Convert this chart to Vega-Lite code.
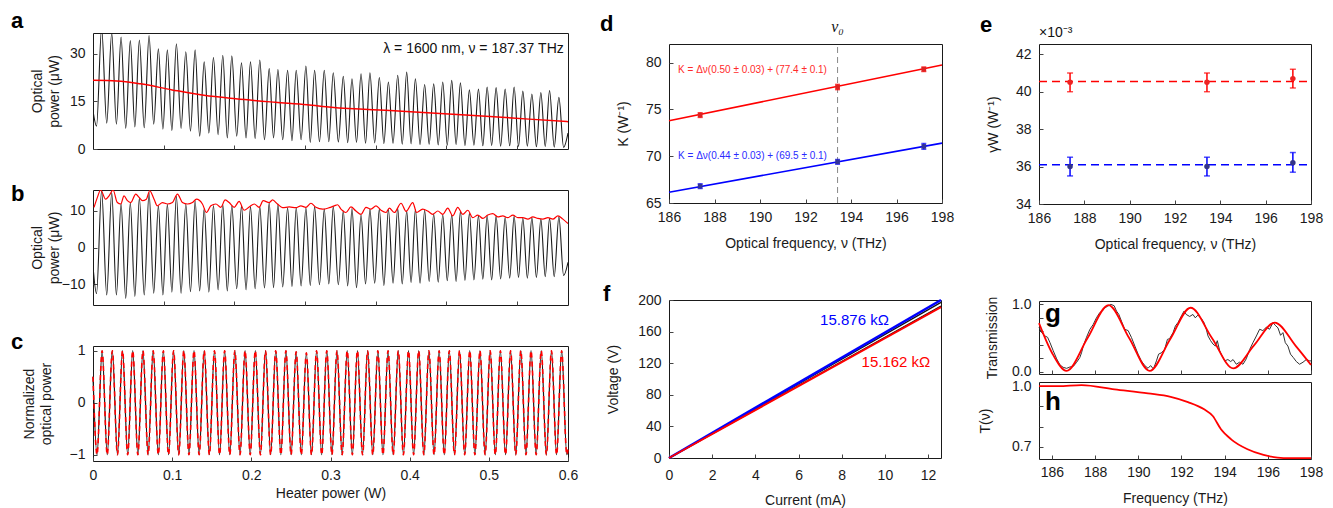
{
"$schema": "https://vega.github.io/schema/vega-lite/v6.json",
"padding": {"left": 10, "top": 9, "right": 0, "bottom": 0},
"background": "white",
"config": {
  "font": "Liberation Sans",
  "view": {"stroke": "#1a1a1a", "strokeWidth": 1},
  "axis": {"grid": false, "domain": false, "tickSize": -4, "tickColor": "#444", "tickWidth": 1, "labelFontSize": 14, "titleFontSize": 14, "titleFontWeight": "normal", "labelColor": "#1a1a1a", "titleColor": "#1a1a1a", "labelFlush": false, "labelOverlap": false, "labelPadding": 11, "titlePadding": 12, "titleLineHeight": 17, "labelFont": "Liberation Sans", "titleFont": "Liberation Sans"},
  "axisY": {"labelPadding": 12},
  "title": {"fontSize": 22, "fontWeight": "bold", "anchor": "start", "frame": "group", "baseline": "alphabetic", "color": "#000", "font": "Liberation Sans"},
  "text": {"font": "Liberation Sans"}
},
"datasets": {
"osc": [
{"x":0,"a":12,"b":-5},{"x":0.0050,"a":7.2,"b":-12.5},{"x":0.0122,"a":38.0,"b":15.5},{"x":0.0194,"a":8.1,"b":-12.9},{"x":0.0265,"a":36.5,"b":14.9},{"x":0.0331,"a":7.8,"b":-12.9},{"x":0.0397,"a":35.2,"b":11.9},{"x":0.0463,"a":6.5,"b":-13.8},{"x":0.0528,"a":34.1,"b":12.1},{"x":0.0592,"a":6.9,"b":-13.3},{"x":0.0656,"a":34.3,"b":13.4},{"x":0.0725,"a":6.7,"b":-12.9},{"x":0.0793,"a":35.7,"b":14.9},{"x":0.0859,"a":7.8,"b":-12.4},{"x":0.0925,"a":31.5,"b":11.3},{"x":0.0989,"a":6.2,"b":-12.9},{"x":0.1052,"a":31.2,"b":11.7},{"x":0.1116,"a":5.8,"b":-12.1},{"x":0.1180,"a":33.1,"b":13.9},{"x":0.1246,"a":6.5,"b":-12.4},{"x":0.1313,"a":30.6,"b":11.8},{"x":0.1379,"a":5.6,"b":-12.0},{"x":0.1445,"a":31.2,"b":12.7},{"x":0.1509,"a":4.0,"b":-11.8},{"x":0.1573,"a":27.4,"b":10.6},{"x":0.1639,"a":5.0,"b":-12.1},{"x":0.1704,"a":28.8,"b":11.4},{"x":0.1770,"a":4.5,"b":-11.5},{"x":0.1836,"a":29.5,"b":11.7},{"x":0.1900,"a":3.5,"b":-11.8},{"x":0.1964,"a":29.3,"b":11.4},{"x":0.2033,"a":4.0,"b":-11.2},{"x":0.2101,"a":27.1,"b":11.3},{"x":0.2165,"a":3.5,"b":-11.5},{"x":0.2228,"a":27.4,"b":11.1},{"x":0.2294,"a":3.3,"b":-11.2},{"x":0.2360,"a":28.0,"b":11.1},{"x":0.2426,"a":2.9,"b":-11.0},{"x":0.2493,"a":25.3,"b":12.1},{"x":0.2554,"a":3.5,"b":-10.9},{"x":0.2616,"a":25.0,"b":11.7},{"x":0.2684,"a":2.9,"b":-10.7},{"x":0.2753,"a":24.8,"b":10.8},{"x":0.2815,"a":2.6,"b":-10.6},{"x":0.2875,"a":24.8,"b":10.7},{"x":0.2944,"a":2.9,"b":-10.4},{"x":0.3012,"a":26.1,"b":10.8},{"x":0.3074,"a":2.1,"b":-10.3},{"x":0.3135,"a":24.8,"b":11.1},{"x":0.3204,"a":2.3,"b":-10.1},{"x":0.3272,"a":24.8,"b":10.4},{"x":0.3336,"a":2.3,"b":-9.9},{"x":0.3399,"a":24.0,"b":11.1},{"x":0.3471,"a":2.2,"b":-10.1},{"x":0.3541,"a":22.9,"b":9.9},{"x":0.3603,"a":2.0,"b":-10.4},{"x":0.3664,"a":22.1,"b":10.6},{"x":0.3728,"a":2.1,"b":-10.9},{"x":0.3792,"a":23.7,"b":8.9},{"x":0.3856,"a":1.8,"b":-9.9},{"x":0.3918,"a":24.0,"b":10.4},{"x":0.3985,"a":1.9,"b":-9.7},{"x":0.4051,"a":22.5,"b":10.4},{"x":0.4115,"a":1.7,"b":-10.3},{"x":0.4179,"a":21.1,"b":10.3},{"x":0.4245,"a":1.8,"b":-9.7},{"x":0.4311,"a":23.2,"b":10.6},{"x":0.4375,"a":1.5,"b":-9.9},{"x":0.4438,"a":24.2,"b":9.9},{"x":0.4500,"a":1.6,"b":-9.5},{"x":0.4561,"a":22.1,"b":10.3},{"x":0.4627,"a":1.4,"b":-9.7},{"x":0.4692,"a":20.3,"b":10.1},{"x":0.4756,"a":1.5,"b":-9.2},{"x":0.4820,"a":20.5,"b":9.1},{"x":0.4884,"a":1.3,"b":-9.4},{"x":0.4948,"a":21.1,"b":8.9},{"x":0.5012,"a":1.2,"b":-9.0},{"x":0.5075,"a":21.6,"b":8.9},{"x":0.5137,"a":1.4,"b":-9.2},{"x":0.5198,"a":20.8,"b":9.8},{"x":0.5262,"a":1.1,"b":-8.9},{"x":0.5325,"a":18.6,"b":9.3},{"x":0.5389,"a":1.2,"b":-8.8},{"x":0.5453,"a":18.9,"b":8.6},{"x":0.5515,"a":1.0,"b":-8.6},{"x":0.5576,"a":19.5,"b":8.6},{"x":0.5640,"a":1.1,"b":-8.8},{"x":0.5703,"a":19.3,"b":8.5},{"x":0.5767,"a":0.9,"b":-8.5},{"x":0.5831,"a":18.9,"b":8.2},{"x":0.5895,"a":1.0,"b":-8.3},{"x":0.5958,"a":19.5,"b":8.5},{"x":0.6020,"a":0.8,"b":-8.1},{"x":0.6081,"a":18.2,"b":8.0},{"x":0.6145,"a":0.9,"b":-8.3},{"x":0.6209,"a":17.3,"b":8.1},{"x":0.6273,"a":0.7,"b":-8.1},{"x":0.6336,"a":17.8,"b":7.7},{"x":0.6398,"a":0.8,"b":-7.9},{"x":0.6459,"a":18.4,"b":7.9},{"x":0.6525,"a":0.6,"b":-7.9},{"x":0.6591,"a":16.3,"b":8.3},{"x":0.6658,"a":0.5,"b":-7.6},{"x":0.672,"a":5,"b":-4}
],
"aBase": [
{"x":0,"a":21.6},{"x":0.034,"a":21.4},{"x":0.067,"a":20.5},{"x":0.112,"a":18.6},{"x":0.157,"a":16.9},{"x":0.202,"a":15.8},{"x":0.258,"a":14.7},{"x":0.303,"a":13.9},{"x":0.337,"a":13.1},{"x":0.426,"a":12.0},{"x":0.527,"a":10.7},{"x":0.617,"a":9.4},{"x":0.672,"a":8.6}
],
"bEnv": [
{"x":0.0015,"b":10.9},{"x":0.0062,"b":13.6},{"x":0.0109,"b":15.6},{"x":0.0179,"b":13.1},{"x":0.0227,"b":14.0},{"x":0.0284,"b":15.6},{"x":0.0344,"b":12.2},{"x":0.0393,"b":11.8},{"x":0.0439,"b":14.0},{"x":0.0487,"b":12.7},{"x":0.0534,"b":12.2},{"x":0.0605,"b":14.5},{"x":0.0652,"b":13.6},{"x":0.0699,"b":12.7},{"x":0.0755,"b":13.1},{"x":0.0802,"b":15.4},{"x":0.0864,"b":13.1},{"x":0.0911,"b":11.3},{"x":0.0982,"b":12.2},{"x":0.1053,"b":11.8},{"x":0.1124,"b":12.2},{"x":0.1195,"b":14.5},{"x":0.1265,"b":12.2},{"x":0.1336,"b":11.8},{"x":0.1407,"b":12.2},{"x":0.1464,"b":13.1},{"x":0.1548,"b":11.8},{"x":0.1605,"b":9.5},{"x":0.1667,"b":11.3},{"x":0.1738,"b":11.8},{"x":0.1808,"b":10.9},{"x":0.1870,"b":12.9},{"x":0.1926,"b":12.2},{"x":0.1997,"b":10.9},{"x":0.2067,"b":12.5},{"x":0.2139,"b":10.1},{"x":0.2210,"b":11.0},{"x":0.2281,"b":11.8},{"x":0.2351,"b":10.9},{"x":0.2407,"b":12.7},{"x":0.2493,"b":12.2},{"x":0.2540,"b":12.9},{"x":0.2610,"b":11.8},{"x":0.2682,"b":10.8},{"x":0.2776,"b":11.0},{"x":0.2871,"b":10.8},{"x":0.2941,"b":11.3},{"x":0.3012,"b":10.9},{"x":0.3083,"b":12.0},{"x":0.3153,"b":10.9},{"x":0.3249,"b":10.4},{"x":0.3343,"b":10.8},{"x":0.3414,"b":11.3},{"x":0.3461,"b":11.6},{"x":0.3508,"b":10.4},{"x":0.3579,"b":9.5},{"x":0.3649,"b":11.0},{"x":0.3720,"b":9.9},{"x":0.3792,"b":9.0},{"x":0.3862,"b":10.9},{"x":0.3933,"b":10.4},{"x":0.4004,"b":11.3},{"x":0.4074,"b":10.1},{"x":0.4145,"b":9.5},{"x":0.4192,"b":10.7},{"x":0.4264,"b":9.5},{"x":0.4358,"b":12.0},{"x":0.4429,"b":9.8},{"x":0.4523,"b":12.2},{"x":0.4579,"b":9.5},{"x":0.4664,"b":10.4},{"x":0.4735,"b":9.9},{"x":0.4807,"b":9.0},{"x":0.4878,"b":9.9},{"x":0.4948,"b":9.0},{"x":0.5019,"b":10.7},{"x":0.5090,"b":8.6},{"x":0.5160,"b":10.9},{"x":0.5231,"b":9.0},{"x":0.5302,"b":10.1},{"x":0.5373,"b":8.1},{"x":0.5444,"b":8.8},{"x":0.5515,"b":7.9},{"x":0.5585,"b":8.8},{"x":0.5656,"b":9.2},{"x":0.5727,"b":8.3},{"x":0.5797,"b":8.6},{"x":0.5868,"b":8.1},{"x":0.5940,"b":8.8},{"x":0.6011,"b":8.1},{"x":0.6081,"b":8.1},{"x":0.6152,"b":7.7},{"x":0.6223,"b":8.3},{"x":0.6293,"b":7.9},{"x":0.6364,"b":7.7},{"x":0.6436,"b":8.1},{"x":0.6507,"b":7.7},{"x":0.6577,"b":8.6},{"x":0.6648,"b":7.7},{"x":0.672,"b":6.5}
],
"cOsc": [
{"x":0,"c":0.5},{"x":0.0051,"c":-1},{"x":0.0115,"c":1},{"x":0.0180,"c":-1},{"x":0.0244,"c":1},{"x":0.0309,"c":-1},{"x":0.0373,"c":1},{"x":0.0438,"c":-1},{"x":0.0502,"c":1},{"x":0.0567,"c":-1},{"x":0.0631,"c":1},{"x":0.0696,"c":-1},{"x":0.0760,"c":1},{"x":0.0825,"c":-1},{"x":0.0889,"c":1},{"x":0.0954,"c":-1},{"x":0.1018,"c":1},{"x":0.1083,"c":-1},{"x":0.1147,"c":1},{"x":0.1212,"c":-1},{"x":0.1276,"c":1},{"x":0.1341,"c":-1},{"x":0.1405,"c":1},{"x":0.1470,"c":-1},{"x":0.1534,"c":1},{"x":0.1599,"c":-1},{"x":0.1663,"c":1},{"x":0.1728,"c":-1},{"x":0.1792,"c":1},{"x":0.1857,"c":-1},{"x":0.1921,"c":1},{"x":0.1986,"c":-1},{"x":0.2050,"c":1},{"x":0.2115,"c":-1},{"x":0.2179,"c":1},{"x":0.2244,"c":-1},{"x":0.2308,"c":1},{"x":0.2373,"c":-1},{"x":0.2437,"c":1},{"x":0.2502,"c":-1},{"x":0.2566,"c":0.98},{"x":0.2631,"c":-1},{"x":0.2695,"c":0.96},{"x":0.2760,"c":-1},{"x":0.2824,"c":1},{"x":0.2889,"c":-1},{"x":0.2953,"c":1},{"x":0.3018,"c":-1},{"x":0.3082,"c":1},{"x":0.3147,"c":-1},{"x":0.3211,"c":1},{"x":0.3276,"c":-1},{"x":0.3340,"c":1},{"x":0.3405,"c":-1},{"x":0.3469,"c":1},{"x":0.3534,"c":-1},{"x":0.3598,"c":1},{"x":0.3663,"c":-1},{"x":0.3727,"c":1},{"x":0.3792,"c":-1},{"x":0.3856,"c":1},{"x":0.3921,"c":-1},{"x":0.3985,"c":1},{"x":0.4050,"c":-1},{"x":0.4114,"c":1},{"x":0.4179,"c":-1},{"x":0.4243,"c":1},{"x":0.4308,"c":-1},{"x":0.4372,"c":1},{"x":0.4437,"c":-1},{"x":0.4501,"c":1},{"x":0.4566,"c":-1},{"x":0.4630,"c":1},{"x":0.4695,"c":-1},{"x":0.4759,"c":1},{"x":0.4824,"c":-1},{"x":0.4888,"c":1},{"x":0.4953,"c":-1},{"x":0.5017,"c":1},{"x":0.5082,"c":-1},{"x":0.5146,"c":1},{"x":0.5211,"c":-1},{"x":0.5275,"c":1},{"x":0.5340,"c":-1},{"x":0.5404,"c":1},{"x":0.5469,"c":-1},{"x":0.5533,"c":1},{"x":0.5598,"c":-1},{"x":0.5662,"c":1},{"x":0.5727,"c":-1},{"x":0.5791,"c":1},{"x":0.5856,"c":-1},{"x":0.5920,"c":1},{"x":0.5985,"c":-1},{"x":0.6,"c":-0.9}
],
"dPts": [
{"f":187.37,"K":74.4,"lo":74.15,"hi":74.65,"s":"r"},{"f":193.41,"K":77.4,"lo":77.12,"hi":77.68,"s":"r"},{"f":197.2,"K":79.3,"lo":79.05,"hi":79.55,"s":"r"},
{"f":187.37,"K":66.8,"lo":66.55,"hi":67.05,"s":"b"},{"f":193.41,"K":69.4,"lo":69.15,"hi":69.65,"s":"b"},{"f":197.2,"K":71.05,"lo":70.75,"hi":71.35,"s":"b"}
],
"dFit": [
{"f":186,"K":73.8,"s":"r"},{"f":198,"K":79.75,"s":"r"},{"f":186,"K":66.15,"s":"b"},{"f":198,"K":71.4,"s":"b"}
],
"ePts": [
{"f":187.37,"g":40.5,"lo":40.0,"hi":41.0,"s":"r"},{"f":193.41,"g":40.5,"lo":40.0,"hi":41.0,"s":"r"},{"f":197.2,"g":40.7,"lo":40.2,"hi":41.2,"s":"r"},
{"f":187.37,"g":36.0,"lo":35.5,"hi":36.5,"s":"b"},{"f":193.41,"g":36.0,"lo":35.5,"hi":36.5,"s":"b"},{"f":197.2,"g":36.2,"lo":35.7,"hi":36.75,"s":"b"}
],
"eMean": [
{"f":186,"g":40.55,"s":"r"},{"f":198,"g":40.55,"s":"r"},{"f":186,"g":36.1,"s":"b"},{"f":198,"g":36.1,"s":"b"}
],
"fIV": [
{"i":0,"v":0,"s":"k1"},{"i":12.6,"v":197.0,"s":"k1"},
{"i":0,"v":0,"s":"k2"},{"i":12.6,"v":192.3,"s":"k2"},
{"i":0,"v":0,"s":"blue"},{"i":12.6,"v":200.0,"s":"blue"},
{"i":0,"v":0,"s":"red"},{"i":12.6,"v":191.0,"s":"red"}
],
"gMeas": [
{"f":185.40,"t":0.66},{"f":185.52,"t":0.58},{"f":185.68,"t":0.53},{"f":185.80,"t":0.51},{"f":185.91,"t":0.43},{"f":186.06,"t":0.31},{"f":186.22,"t":0.19},{"f":186.37,"t":0.10},{"f":186.52,"t":0.064},{"f":186.68,"t":0.049},{"f":186.83,"t":0.069},{"f":186.99,"t":0.079},{"f":187.14,"t":0.137},{"f":187.29,"t":0.21},{"f":187.37,"t":0.28},{"f":187.45,"t":0.38},{"f":187.60,"t":0.51},{"f":187.76,"t":0.63},{"f":187.91,"t":0.70},{"f":188.06,"t":0.80},{"f":188.22,"t":0.88},{"f":188.33,"t":0.90},{"f":188.45,"t":0.95},{"f":188.57,"t":0.97},{"f":188.73,"t":1.0},{"f":188.88,"t":0.98},{"f":188.99,"t":0.90},{"f":189.10,"t":0.85},{"f":189.22,"t":0.75},{"f":189.37,"t":0.63},{"f":189.53,"t":0.61},{"f":189.68,"t":0.51},{"f":189.84,"t":0.38},{"f":189.99,"t":0.26},{"f":190.14,"t":0.16},{"f":190.30,"t":0.09},{"f":190.45,"t":0.05},{"f":190.57,"t":0.09},{"f":190.70,"t":0.04},{"f":190.84,"t":0.16},{"f":190.94,"t":0.26},{"f":191.07,"t":0.28},{"f":191.22,"t":0.33},{"f":191.35,"t":0.48},{"f":191.45,"t":0.49},{"f":191.61,"t":0.58},{"f":191.72,"t":0.68},{"f":191.84,"t":0.73},{"f":192.00,"t":0.83},{"f":192.12,"t":0.90},{"f":192.22,"t":0.85},{"f":192.38,"t":0.82},{"f":192.53,"t":0.85},{"f":192.64,"t":0.80},{"f":192.76,"t":0.84},{"f":192.92,"t":0.79},{"f":193.04,"t":0.73},{"f":193.15,"t":0.63},{"f":193.23,"t":0.53},{"f":193.35,"t":0.46},{"f":193.46,"t":0.41},{"f":193.57,"t":0.38},{"f":193.66,"t":0.46},{"f":193.77,"t":0.31},{"f":193.87,"t":0.24},{"f":194.00,"t":0.16},{"f":194.15,"t":0.18},{"f":194.28,"t":0.15},{"f":194.39,"t":0.18},{"f":194.54,"t":0.11},{"f":194.69,"t":0.14},{"f":194.85,"t":0.11},{"f":195.00,"t":0.19},{"f":195.16,"t":0.33},{"f":195.31,"t":0.43},{"f":195.47,"t":0.53},{"f":195.62,"t":0.63},{"f":195.77,"t":0.61},{"f":195.93,"t":0.66},{"f":196.08,"t":0.63},{"f":196.24,"t":0.73},{"f":196.34,"t":0.69},{"f":196.47,"t":0.65},{"f":196.59,"t":0.54},{"f":196.70,"t":0.58},{"f":196.81,"t":0.43},{"f":196.93,"t":0.38},{"f":197.05,"t":0.26},{"f":197.18,"t":0.21},{"f":197.32,"t":0.15},{"f":197.47,"t":0.11},{"f":197.63,"t":0.14},{"f":197.78,"t":0.18},{"f":197.94,"t":0.16},{"f":198.00,"t":0.16}
],
"gFit": [
{"f":185.4,"t":0.72},{"f":186.0,"t":0.28},{"f":186.68,"t":0.01},{"f":187.65,"t":0.50},{"f":188.62,"t":0.99},{"f":189.575,"t":0.50},{"f":190.53,"t":0.01},{"f":191.475,"t":0.48},{"f":192.42,"t":0.95},{"f":193.41,"t":0.50},{"f":194.40,"t":0.05},{"f":195.36,"t":0.39},{"f":196.32,"t":0.73},{"f":197.3,"t":0.38},{"f":198,"t":0.1}
],
"hT": [
{"f":185.4,"t":1.0},{"f":186.3,"t":1.0},{"f":187.37,"t":1.005},{"f":188.9,"t":0.984},{"f":190.45,"t":0.964},{"f":191.5,"t":0.947},{"f":192.3,"t":0.921},{"f":193.05,"t":0.885},{"f":193.45,"t":0.852},{"f":193.83,"t":0.787},{"f":194.3,"t":0.737},{"f":195.06,"t":0.688},{"f":195.8,"t":0.66},{"f":196.45,"t":0.647},{"f":197.0,"t":0.644},{"f":198,"t":0.644}
]
},
"columns": 2,
"align": "none",
"spacing": 20,
"concat": [
 {"spacing": 41, "bounds": "flush", "vconcat": [
  {"width": 475, "height": 116,
   "title": {"text": "a", "dx": -82, "offset": 0},
   "layer": [
     {"data": {"name": "osc"}, "mark": {"type": "line", "interpolate": "monotone", "color": "#1a1a1a", "strokeWidth": 1.1, "clip": true},
      "encoding": {
        "x": {"field": "x", "type": "quantitative", "scale": {"domain": [0, 0.672], "nice": false, "zero": false}, "axis": {"values": [0.1,0.2,0.3,0.4,0.5,0.6], "tickCount": 20, "labels": false, "title": null}},
        "y": {"field": "a", "type": "quantitative", "scale": {"domain": [0, 36.5], "nice": false, "zero": false}, "axis": {"values": [0,15,30], "tickCount": 20, "format": "d", "labelOverlap": false, "title": ["Optical", "power (μW)"], "minExtent": 26, "maxExtent": 26, "titlePadding": 6}}
      }},
     {"data": {"name": "aBase"}, "mark": {"type": "line", "interpolate": "monotone", "color": "#ff0000", "strokeWidth": 1.5},
      "encoding": {"x": {"field": "x", "type": "quantitative"}, "y": {"field": "a", "type": "quantitative"}}},
     {"data": {"values": [{}]}, "mark": {"type": "text", "text": "λ = 1600 nm, ν = 187.37 THz", "align": "right", "baseline": "middle", "fontSize": 14, "color": "#111"},
      "encoding": {"x": {"datum": 0.666}, "y": {"datum": 31.4}}}
   ]
  },
  {"width": 475, "height": 115,
   "title": {"text": "b", "dx": -82, "offset": -16},
   "encoding": {
     "x": {"field": "x", "type": "quantitative", "scale": {"domain": [0, 0.672], "nice": false, "zero": false}, "axis": {"values": [0.1,0.2,0.3,0.4,0.5,0.6], "labels": false, "title": null}},
     "y": {"field": "b", "type": "quantitative", "scale": {"domain": [-15.6, 15.6], "nice": false, "zero": false}, "axis": {"values": [-10,0,10], "labelOverlap": false, "title": ["Optical", "power (μW)"], "minExtent": 26, "maxExtent": 26, "titlePadding": 6}}
   },
   "layer": [
     {"data": {"name": "osc"}, "mark": {"type": "line", "interpolate": "monotone", "color": "#1a1a1a", "strokeWidth": 1.1, "clip": true}},
     {"data": {"name": "bEnv"}, "mark": {"type": "line", "interpolate": "monotone", "color": "#ff0000", "strokeWidth": 1.2, "clip": true}}
   ]
  },
  {"width": 475, "height": 115,
   "title": {"text": "c", "dx": -82, "offset": -10},
   "encoding": {
     "x": {"field": "x", "type": "quantitative", "scale": {"domain": [0, 0.6], "nice": false, "zero": false}, "axis": {"values": [0,0.1,0.2,0.3,0.4,0.5,0.6], "labelOverlap": false, "labelExpr": "datum.value == 0 ? '0' : format(datum.value, '.1f')", "title": "Heater power (W)", "titlePadding": 4}},
     "y": {"field": "c", "type": "quantitative", "scale": {"domain": [-1.12, 1.09], "nice": false, "zero": false}, "axis": {"values": [-1,0,1], "labelOverlap": false, "title": ["Normalized", "optical power"], "minExtent": 26, "maxExtent": 26, "titlePadding": 14}}
   },
   "layer": [
     {"data": {"name": "cOsc"}, "mark": {"type": "line", "interpolate": "monotone", "color": "#1a1a1a", "strokeWidth": 1.2}},
     {"data": {"name": "cOsc"}, "mark": {"type": "line", "interpolate": "monotone", "color": "#ff0000", "strokeWidth": 1.6, "strokeDash": [5, 4]}}
   ]
  }
 ]},
 {"columns": 2, "align": "none", "spacing": 23, "concat": [
  {"spacing": 10, "bounds": "flush", "vconcat": [
   {"width": 10, "height": 1, "view": {"stroke": null}, "data": {"values": [{}]}, "mark": {"type": "point", "opacity": 0}, "encoding": {}},
   {"spacing": 97, "bounds": "flush", "vconcat": [
   {"width": 273, "height": 159,
    "title": {"text": "d", "dx": -69, "offset": -17},
    "layer": [
      {"data": {"name": "dFit"}, "mark": {"type": "line", "strokeWidth": 1.6},
       "encoding": {
         "x": {"field": "f", "type": "quantitative", "scale": {"domain": [186, 198], "nice": false, "zero": false}, "axis": {"values": [186,188,190,192,194,196,198], "tickCount": 20, "format": "d", "labelOverlap": false, "title": "Optical frequency, ν (THz)"}},
         "y": {"field": "K", "type": "quantitative", "scale": {"domain": [65, 82], "nice": false, "zero": false}, "axis": {"values": [65,70,75,80], "tickCount": 20, "format": "d", "labelOverlap": false, "title": "K (W⁻¹)", "titlePadding": 15}},
         "color": {"field": "s", "type": "nominal", "scale": {"domain": ["r","b"], "range": ["#ff0000","#0000ff"]}, "legend": null}}},
      {"data": {"values": [{}]}, "mark": {"type": "rule", "color": "#888", "strokeDash": [6,4], "strokeWidth": 1},
       "encoding": {"x": {"datum": 193.41}, "y": {"datum": 65}, "y2": {"datum": 82}}},
      {"data": {"name": "dPts"}, "mark": {"type": "errorbar", "ticks": true, "thickness": 1.5, "size": 5},
       "encoding": {"x": {"field": "f", "type": "quantitative", "title": "Optical frequency, ν (THz)"}, "y": {"field": "lo", "type": "quantitative", "title": "K (W⁻¹)"}, "y2": {"field": "hi"}, "color": {"field": "s", "type": "nominal", "scale": {"domain": ["r","b"], "range": ["#ff0000","#0000ff"]}, "legend": null}}},
      {"data": {"name": "dPts"}, "mark": {"type": "point", "shape": "square", "filled": true, "size": 22, "opacity": 1},
       "encoding": {"x": {"field": "f", "type": "quantitative"}, "y": {"field": "K", "type": "quantitative"}, "color": {"condition": {"test": "datum.s == 'r'", "value": "#dd2222"}, "value": "#333399"}}},
      {"data": {"values": [{}]}, "mark": {"type": "text", "text": "K = Δν(0.50 ± 0.03) + (77.4 ± 0.1)", "align": "left", "baseline": "middle", "fontSize": 10, "color": "#ff2a2a"},
       "encoding": {"x": {"datum": 186.4}, "y": {"datum": 79.2}}},
      {"data": {"values": [{}]}, "mark": {"type": "text", "text": "K = Δν(0.44 ± 0.03) + (69.5 ± 0.1)", "align": "left", "baseline": "middle", "fontSize": 10, "color": "#2a2aff"},
       "encoding": {"x": {"datum": 186.4}, "y": {"datum": 70.0}}},
      {"data": {"values": [{}]}, "mark": {"type": "text", "text": "ν₀", "align": "center", "baseline": "alphabetic", "dy": -12, "fontSize": 16, "font": "Liberation Serif", "fontStyle": "italic", "color": "#111"},
       "encoding": {"x": {"datum": 193.41}, "y": {"datum": 82}}}
    ]
   },
   {"width": 272, "height": 158,
    "title": {"text": "f", "dx": -66, "offset": -13},
    "layer": [
      {"data": {"name": "fIV"}, "transform": [{"filter": "datum.s == 'k1' || datum.s == 'k2'"}], "mark": {"type": "line", "color": "#111", "strokeWidth": 1.3},
       "encoding": {
         "x": {"field": "i", "type": "quantitative", "scale": {"domain": [0, 12.6], "nice": false, "zero": false}, "axis": {"values": [0,2,4,6,8,10,12], "tickCount": 20, "format": "d", "labelOverlap": false, "title": "Current (mA)", "labelPadding": 14, "titlePadding": 11}},
         "y": {"field": "v", "type": "quantitative", "scale": {"domain": [0, 200], "nice": false, "zero": false}, "axis": {"values": [0,40,80,120,160,200], "tickCount": 20, "format": "d", "labelOverlap": false, "title": "Voltage (V)", "titlePadding": 17}},
         "detail": {"field": "s"}}},
      {"data": {"name": "fIV"}, "transform": [{"filter": "datum.s == 'blue'"}], "mark": {"type": "line", "color": "#0000ff", "strokeWidth": 2.6},
       "encoding": {"x": {"field": "i", "type": "quantitative"}, "y": {"field": "v", "type": "quantitative"}}},
      {"data": {"name": "fIV"}, "transform": [{"filter": "datum.s == 'red'"}], "mark": {"type": "line", "color": "#ff0000", "strokeWidth": 2},
       "encoding": {"x": {"field": "i", "type": "quantitative"}, "y": {"field": "v", "type": "quantitative"}}},
      {"data": {"values": [{}]}, "mark": {"type": "text", "text": "15.876 kΩ", "align": "left", "baseline": "middle", "fontSize": 15, "color": "#0000ff"},
       "encoding": {"x": {"datum": 7.0}, "y": {"datum": 174.7}}},
      {"data": {"values": [{}]}, "mark": {"type": "text", "text": "15.162 kΩ", "align": "left", "baseline": "middle", "fontSize": 15, "color": "#ff0000"},
       "encoding": {"x": {"datum": 8.92}, "y": {"datum": 122}}}
    ]
   }
   ]}
  ]},
  {"spacing": 10, "bounds": "flush", "vconcat": [
   {"width": 10, "height": 1, "view": {"stroke": null}, "data": {"values": [{}]}, "mark": {"type": "point", "opacity": 0}, "encoding": {}},
   {"spacing": 43, "vconcat": [
   {"width": 272, "height": 160,
    "title": {"text": "e", "dx": -59, "offset": -11},
    "layer": [
      {"data": {"name": "eMean"}, "mark": {"type": "line", "strokeWidth": 1.5, "strokeDash": [8,5]},
       "encoding": {
         "x": {"field": "f", "type": "quantitative", "scale": {"domain": [186, 198], "nice": false, "zero": false}, "axis": {"values": [186,188,190,192,194,196,198], "tickCount": 20, "format": "d", "labelOverlap": false, "title": "Optical frequency, ν (THz)"}},
         "y": {"field": "g", "type": "quantitative", "scale": {"domain": [34, 42.55], "nice": false, "zero": false}, "axis": {"values": [34,36,38,40,42], "tickCount": 20, "format": "d", "labelOverlap": false, "title": "γW (W⁻¹)", "titlePadding": 15}},
         "color": {"field": "s", "type": "nominal", "scale": {"domain": ["r","b"], "range": ["#ff0000","#0000ff"]}, "legend": null}}},
      {"data": {"name": "ePts"}, "mark": {"type": "errorbar", "ticks": true, "thickness": 1.5, "size": 6},
       "encoding": {"x": {"field": "f", "type": "quantitative", "title": "Optical frequency, ν (THz)"}, "y": {"field": "lo", "type": "quantitative", "title": "γW (W⁻¹)"}, "y2": {"field": "hi"}, "color": {"field": "s", "type": "nominal", "scale": {"domain": ["r","b"], "range": ["#ff0000","#0000ff"]}, "legend": null}}},
      {"data": {"name": "ePts"}, "mark": {"type": "point", "shape": "circle", "filled": true, "size": 30, "opacity": 1},
       "encoding": {"x": {"field": "f", "type": "quantitative"}, "y": {"field": "g", "type": "quantitative"}, "color": {"condition": {"test": "datum.s == 'r'", "value": "#ee2222"}, "value": "#333388"}}},
      {"data": {"values": [{}]}, "mark": {"type": "text", "text": "×10⁻³", "align": "left", "baseline": "bottom", "dy": -4, "fontSize": 14, "color": "#111"},
       "encoding": {"x": {"datum": 186}, "y": {"datum": 42.55}}}
    ]
   },
   {"spacing": 8, "bounds": "flush", "vconcat": [
    {"width": 272, "height": 73,
     "title": {"text": "g", "dx": 6, "offset": -31, "fontSize": 26},
     "encoding": {
       "x": {"field": "f", "type": "quantitative", "scale": {"domain": [185.4, 198], "nice": false, "zero": false}, "axis": {"values": [186,188,190,192,194,196,198], "labels": false, "title": null}},
       "y": {"field": "t", "type": "quantitative", "scale": {"domain": [-0.035, 1.05], "nice": false, "zero": false}, "axis": {"values": [0,0.2,0.4,0.6,0.8,1], "labelOverlap": false, "labelExpr": "datum.value == 0 || datum.value == 1 ? format(datum.value, '.1f') : ''", "title": "Transmission", "titlePadding": 12}}
     },
     "layer": [
       {"data": {"name": "gMeas"}, "mark": {"type": "line", "color": "#333", "strokeWidth": 1}},
       {"data": {"name": "gFit"}, "mark": {"type": "line", "color": "#ff0000", "strokeWidth": 1.8, "interpolate": "monotone"}}
     ]
    },
    {"width": 272, "height": 77,
     "title": {"text": "h", "dx": 6, "offset": -36, "fontSize": 26},
     "encoding": {
       "x": {"field": "f", "type": "quantitative", "scale": {"domain": [185.4, 198], "nice": false, "zero": false}, "axis": {"values": [186,188,190,192,194,196,198], "labelOverlap": false, "title": "Frequency (THz)", "labelPadding": 10}},
       "y": {"field": "t", "type": "quantitative", "scale": {"domain": [0.64, 1.02], "nice": false, "zero": false}, "axis": {"values": [0.7,0.8,0.9,1.0], "labelOverlap": false, "labelExpr": "datum.value == 0.7 || datum.value == 1 ? format(datum.value, '.1f') : ''", "title": "T(ν)", "titlePadding": 19}}
     },
     "layer": [
       {"data": {"name": "hT"}, "mark": {"type": "line", "color": "#ff0000", "strokeWidth": 1.8, "interpolate": "monotone"}}
     ]
    }
   ]}
   ]}
  ]}
 ]}
]
}
